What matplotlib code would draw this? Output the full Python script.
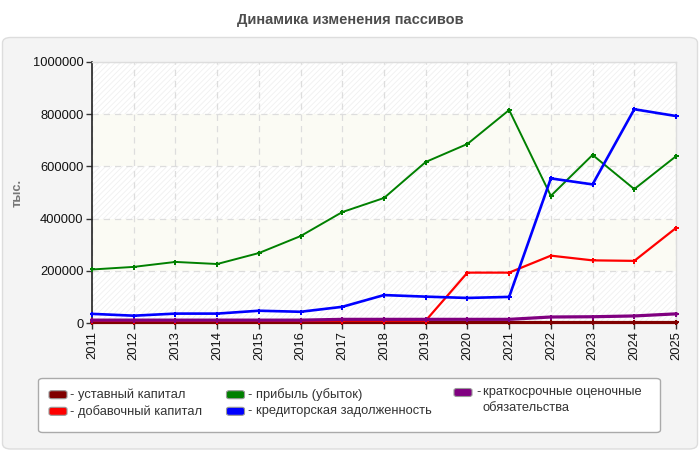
import matplotlib
matplotlib.use("Agg")
import matplotlib.pyplot as plt
from matplotlib.patches import FancyBboxPatch, Rectangle

plt.rcParams['font.family'] = ['Liberation Sans', 'DejaVu Sans']
plt.rcParams['hatch.linewidth'] = 0.6

years = list(range(2011, 2026))
ustavny = [2000] * 15
dobavochny = [8000, 8000, 8000, 8000, 8000, 8000, 9000, 9000, 9000,
              193000, 193000, 258000, 240000, 238000, 364000]
pribyl = [205000, 215000, 234000, 226000, 268000, 333000, 425000, 479000,
          617000, 686000, 816000, 487000, 644000, 513000, 639000]
kreditor = [35000, 28000, 36000, 36000, 47000, 43000, 62000, 107000,
            101000, 96000, 100000, 554000, 531000, 819000, 793000]
kratkosroch = [11000, 11000, 11000, 11000, 11000, 11000, 14000, 14000,
               14000, 14000, 14000, 23000, 24000, 27000, 35000]

series_names = ["уставный капитал", "добавочный капитал", "прибыль (убыток)",
                "кредиторская задолженность", "краткосрочные оценочные\nобязательства"]
colors = ["#800000", "#ff0000", "#008000", "#0000ff", "#800080"]
widths = [2.3, 1.6, 1.4, 1.9, 2.3]
yticks = [0, 200000, 400000, 600000, 800000, 1000000]

W, H = 700, 450
fig = plt.figure(figsize=(7, 4.5), dpi=100)
fig.patch.set_facecolor("white")

# panel background
panel = FancyBboxPatch((2.5 / W, 1 - 449 / H), 695 / W, (449 - 37.5) / H,
                       boxstyle="round,pad=0,rounding_size=0.012",
                       transform=fig.transFigure, facecolor="#f4f4f4",
                       edgecolor="#dddddd", linewidth=1.0, zorder=-5)
fig.patches.append(panel)

fig.text(350 / W, 1 - 20 / H, "Динамика изменения пассивов", ha="center",
         va="center", fontsize=10.5, fontweight="bold", color="#4d4d4d")

left, right, top, bottom = 92, 676, 62, 323
ax = fig.add_axes([left / W, 1 - bottom / H, (right - left) / W, (bottom - top) / H])
ax.set_zorder(1)
ax.set_facecolor("white")
ax.set_xlim(2011, 2025)
ax.set_ylim(0, 1000000)

# bands
for i in range(5):
    y0, y1 = yticks[i], yticks[i + 1]
    if i in (1, 3):
        ax.axhspan(y0, y1, facecolor="#fbfbf4", edgecolor="none", zorder=0)
    else:
        r = Rectangle((2011, y0), 14, y1 - y0, facecolor="white",
                      edgecolor="#f0f0f0", hatch="//////", linewidth=0, zorder=0)
        ax.add_patch(r)

ax.grid(True, linestyle=(0, (5, 4)), color="#dddddd", linewidth=0.9, zorder=1)
ax.set_axisbelow(True)

order = [2, 3, 1, 4, 0]
data = [ustavny, dobavochny, pribyl, kreditor, kratkosroch]
for k in order:
    ax.plot(years, data[k], color=colors[k], linewidth=widths[k], marker="P",
            markersize=3.6, markeredgewidth=0, zorder=3 + k, clip_on=False)

ax.set_xticks(years)
ax.set_xticklabels([str(y) for y in years], rotation=90, fontsize=9.3, color="#111111")
ax.set_yticks(yticks)
ax.set_yticklabels([str(v) for v in yticks], fontsize=9.3, color="#111111")
ax.tick_params(axis="both", length=4, width=1, color="#333333", pad=2)
for s in ["left", "bottom"]:
    ax.spines[s].set_color("#222222")
    ax.spines[s].set_linewidth(1.2)
for s in ["top", "right"]:
    ax.spines[s].set_color("#dddddd")
    ax.spines[s].set_linewidth(1.0)

fig.text(18 / W, 1 - 193 / H, "тыс.", rotation=90, ha="center", va="center",
         fontsize=9.3, fontweight="bold", color="#777777")

# legend box
lb = FancyBboxPatch((38.5 / W, 1 - 432.5 / H), (660.5 - 38.5) / W, (432.5 - 378.5) / H,
                    boxstyle="round,pad=0,rounding_size=0.006",
                    transform=fig.transFigure, facecolor="white",
                    edgecolor="#aaaaaa", linewidth=1.0, zorder=2)
fig.patches.append(lb)

entries = [(0, 49, 394.7), (1, 49, 411.3), (2, 226.5, 394.7), (3, 226.5, 411.3), (4, 454, 392.5)]
for k, x, y in entries:
    p = FancyBboxPatch((x / W, 1 - (y + 4) / H), 18 / W, 8 / H,
                       boxstyle="round,pad=0,rounding_size=0.004",
                       transform=fig.transFigure, facecolor=colors[k],
                       edgecolor="#999999", linewidth=0.8, zorder=3)
    fig.patches.append(p)
    if k < 4:
        fig.text((x + 21) / W, 1 - y / H, "- " + series_names[k], ha="left",
                 va="center", fontsize=9.3, color="#333333", zorder=4)
    else:
        fig.text((x + 22) / W, 1 - y / H, "-", ha="left", va="center",
                 fontsize=9.3, color="#333333", zorder=4)
        fig.text((x + 29) / W, 1 - 386.5 / H, series_names[k], ha="left",
                 va="top", fontsize=9.3, color="#333333", linespacing=1.35, zorder=4)

fig.savefig("out.png", dpi=100)
